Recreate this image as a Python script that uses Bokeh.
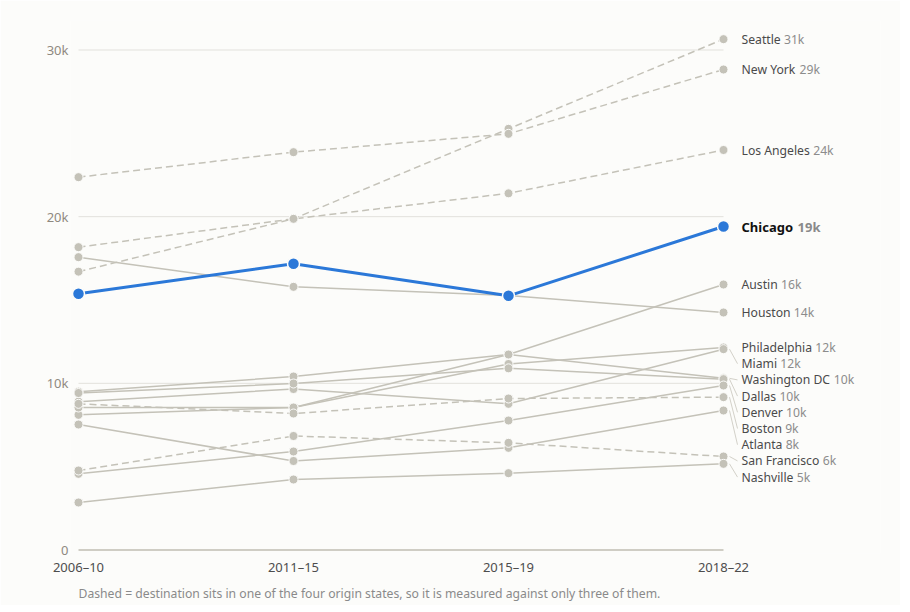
from bokeh.plotting import figure
from bokeh.models import ColumnDataSource, FixedTicker, Range1d, Title
from bokeh.core.properties import value
from bokeh.embed import file_html
from bokeh.resources import INLINE

# ---------------- data (thousands of movers) ----------------
periods = ["2006–10", "2011–15", "2015–19", "2018–22"]
cities = ["Seattle", "New York", "Los Angeles", "Chicago", "Austin", "Houston",
          "Philadelphia", "Miami", "Washington DC", "Dallas", "Denver",
          "Boston", "Atlanta", "San Francisco", "Nashville"]
seattle = [16.7, 19.87, 25.27, 30.65]
new_york = [22.37, 23.87, 24.97, 28.83]
los_angeles = [18.17, 19.87, 21.4, 24.0]
chicago = [15.37, 17.17, 15.25, 19.41]
austin = [8.11, 8.55, 11.73, 15.93]
houston = [17.57, 15.79, 15.27, 14.25]
philadelphia = [8.55, 8.55, 11.16, 12.15]
miami = [8.9, 9.66, 8.77, 12.05]
washington_dc = [9.5, 10.41, 11.73, 10.3]
dallas = [9.42, 9.99, 10.9, 10.25]
denver = [4.57, 5.91, 7.77, 9.87]
boston = [8.77, 8.19, 9.09, 9.17]
atlanta = [7.53, 5.34, 6.13, 8.37]
san_francisco = [4.77, 6.84, 6.43, 5.61]
nashville = [2.85, 4.23, 4.61, 5.17]
dashed_cities = ["Seattle", "New York", "Los Angeles", "San Francisco", "Boston"]
highlight = "Chicago"
y_ticks = [0, 10, 20, 30]
y_tick_labels = ["0", "10k", "20k", "30k"]
footnote = ("Dashed = destination sits in one of the four origin states, "
            "so it is measured against only three of them.")

series = dict(zip(cities, [seattle, new_york, los_angeles, chicago, austin, houston,
                           philadelphia, miami, washington_dc, dallas, denver,
                           boston, atlanta, san_francisco, nashville]))

# ---------------- styling ----------------
BG = "#fcfcfa"
GRAY = "#c4c2b8"
BLUE = "#2b78d8"
FONT = "Noto Sans"
LABEL_SIZE = 12.2

FRAME_W, FRAME_H = 810, 533
PX_X = 215.0            # px per period step
PX_K = 500.0 / 30.0     # px per thousand
x_start = -8 / PX_X
x_end = x_start + FRAME_W / PX_X
y_start = -3.5 / PX_K
y_end = y_start + FRAME_H / PX_K

p = figure(frame_width=FRAME_W, frame_height=FRAME_H,
           x_range=Range1d(x_start, x_end), y_range=Range1d(y_start, y_end),
           output_backend="svg", toolbar_location=None,
           min_border_left=70, min_border_right=20, min_border_top=20,
           min_border_bottom=52)
p.background_fill_color = BG
p.border_fill_color = BG
p.outline_line_color = None
p.grid.visible = False

xs = list(range(len(periods)))

# grid lines and baseline
for t in y_ticks:
    if t == 0:
        p.segment(x0=[xs[0]], x1=[xs[-1]], y0=[t], y1=[t], line_color="#cfcdc4", line_width=2)
    else:
        p.segment(x0=[xs[0]], x1=[xs[-1]], y0=[t], y1=[t], line_color="#e2e1dc", line_width=1)

# axes
p.xaxis.ticker = FixedTicker(ticks=xs)
p.xaxis.major_label_overrides = {i: lab for i, lab in enumerate(periods)}
p.yaxis.ticker = FixedTicker(ticks=y_ticks)
p.yaxis.major_label_overrides = {t: lab for t, lab in zip(y_ticks, y_tick_labels)}
for ax in (p.xaxis, p.yaxis):
    ax.axis_line_color = None
    ax.major_tick_line_color = None
    ax.minor_tick_line_color = None
    ax.major_tick_out = 0
    ax.major_tick_in = 0
    ax.major_label_text_font = FONT
    ax.major_label_text_font_size = "13px"
p.xaxis.major_label_text_color = "#4d4d4d"
p.xaxis.major_label_standoff = 4
p.yaxis.major_label_text_color = "#8f897f"
p.yaxis.major_label_standoff = 2

# lines
for c in cities:
    if c == highlight:
        continue
    dash = "7 4" if c in dashed_cities else "solid"
    p.line(xs, series[c], line_color=GRAY, line_width=1.5, line_dash=dash)
for c in cities:
    if c == highlight:
        continue
    p.scatter(xs, series[c], size=9, fill_color=GRAY, line_color=BG, line_width=1)
p.line(xs, series[highlight], line_color=BLUE, line_width=3)
p.scatter(xs, series[highlight], size=12, fill_color=BLUE, line_color=BG, line_width=1.5)

# ---------------- end labels with push-down dodge ----------------
REG = {' ': 260, 'a': 561, 'b': 615, 'c': 480, 'd': 615, 'e': 564, 'f': 344, 'g': 615,
       'h': 618, 'i': 258, 'j': 258, 'k': 534, 'l': 258, 'm': 935, 'n': 618, 'o': 605,
       'p': 615, 'q': 615, 'r': 413, 's': 479, 't': 361, 'u': 618, 'v': 508, 'w': 786,
       'x': 529, 'y': 510, 'z': 470, 'A': 639, 'B': 650, 'C': 632, 'D': 729, 'F': 518,
       'H': 738, 'L': 534, 'M': 907, 'N': 764, 'P': 602, 'S': 549, 'W': 956, 'Y': 571}
for d in "0123456789":
    REG[d] = 572


def text_w(s, size, bold=False):
    w = sum(REG.get(ch, 560) for ch in s) * size / 1000.0
    return w * (1.07 if bold else 1.0)


ends = sorted(((series[c][-1], c) for c in cities), reverse=True)
spacing = 16.2 / PX_K
label_y = {}
prev = None
for v, c in ends:
    ly = v if prev is None else min(v, prev - spacing)
    label_y[c] = ly
    prev = ly

X_OFF = 18
reg_names = [c for c in cities if c != highlight]
src_names = ColumnDataSource(dict(
    x=[xs[-1]] * len(reg_names),
    y=[label_y[c] for c in reg_names],
    text=reg_names,
))
src_vals = ColumnDataSource(dict(
    x=[xs[-1]] * len(reg_names),
    y=[label_y[c] for c in reg_names],
    text=["%dk" % round(series[c][-1]) for c in reg_names],
    xo=[X_OFF + text_w(c + " ", LABEL_SIZE) for c in reg_names],
))
p.text(x="x", y="y", text="text", source=src_names, x_offset=X_OFF,
       text_baseline="middle", text_align="left", text_font=value(FONT),
       text_font_size="%.1fpx" % LABEL_SIZE, text_color="#4a4a4a")
p.text(x="x", y="y", text="text", source=src_vals, x_offset="xo",
       text_baseline="middle", text_align="left", text_font=value(FONT),
       text_font_size="%.1fpx" % LABEL_SIZE, text_color="#8c8c8c")

CH_SIZE = 13
p.text(x=[xs[-1]], y=[label_y[highlight]], text=[highlight], x_offset=X_OFF,
       text_baseline="middle", text_align="left", text_font=value(FONT),
       text_font_size="%dpx" % CH_SIZE, text_font_style="bold", text_color="#111111")
p.text(x=[xs[-1]], y=[label_y[highlight]], text=["%dk" % round(series[highlight][-1])],
       x_offset=X_OFF + text_w(highlight + " ", CH_SIZE, bold=True),
       text_baseline="middle", text_align="left", text_font=value(FONT),
       text_font_size="%dpx" % CH_SIZE, text_font_style="bold", text_color="#8a8a8a")

# leader lines where labels were pushed away from their point
lx0, lx1, l0, l1 = [], [], [], []
for v, c in ends:
    if abs(label_y[c] - v) * PX_K > 1.5:
        lx0.append(xs[-1] + 6 / PX_X)
        lx1.append(xs[-1] + 14 / PX_X)
        l0.append(v)
        l1.append(label_y[c])
p.segment(x0=lx0, x1=lx1, y0=l0, y1=l1, line_color="#d3d1c9", line_width=1)

# footnote
p.add_layout(Title(text=footnote, align="left", offset=8, standoff=8, text_font=FONT,
                   text_font_size="12.2px", text_font_style="normal",
                   text_color="#8a8a8a"), "below")

open("out.html", "w").write(file_html(p, INLINE))
